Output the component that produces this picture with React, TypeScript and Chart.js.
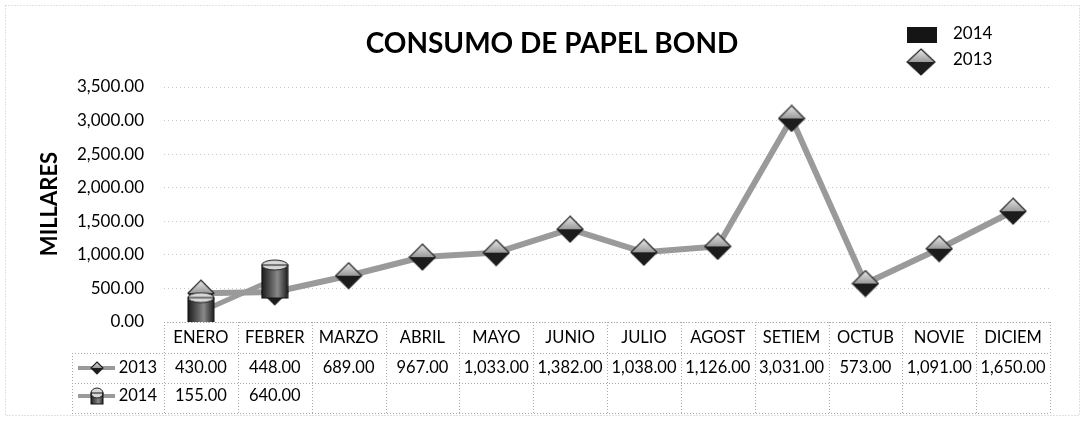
import React, { useEffect, useRef } from "react";
import { Chart, registerables } from "chart.js";

Chart.register(...registerables);

const categories = ["ENERO", "FEBRER", "MARZO", "ABRIL", "MAYO", "JUNIO", "JULIO", "AGOST", "SETIEM", "OCTUB", "NOVIE", "DICIEM"];
const values2013 = [430, 448, 689, 967, 1033, 1382, 1038, 1126, 3031, 573, 1091, 1650];
const values2014: (number | null)[] = [155, 640, null, null, null, null, null, null, null, null, null, null];
const seriesLabels = ["2013", "2014"];
const chartTitle = "CONSUMO DE PAPEL BOND";
const yTitle = "MILLARES";
const yMin = 0;
const yMax = 3500;
const yStep = 500;

const FONT = "Lato, 'Open Sans', sans-serif";

const fmt = (v: number) =>
  v.toLocaleString("en-US", { minimumFractionDigits: 2, maximumFractionDigits: 2 });

function makeDiamond(size: number): HTMLCanvasElement {
  const c = document.createElement("canvas");
  c.width = size;
  c.height = size;
  const g = c.getContext("2d")!;
  const h = size / 2;
  const grad = g.createLinearGradient(0, 0, 0, h);
  grad.addColorStop(0, "#f0f0f0");
  grad.addColorStop(1, "#9a9a9a");
  g.beginPath();
  g.moveTo(h, 1);
  g.lineTo(size - 1, h);
  g.lineTo(1, h);
  g.closePath();
  g.fillStyle = grad;
  g.fill();
  g.beginPath();
  g.moveTo(1, h);
  g.lineTo(size - 1, h);
  g.lineTo(h, size - 1);
  g.closePath();
  g.fillStyle = "#1c1c1c";
  g.fill();
  g.beginPath();
  g.moveTo(h, 1);
  g.lineTo(size - 1, h);
  g.lineTo(h, size - 1);
  g.lineTo(1, h);
  g.closePath();
  g.strokeStyle = "#222";
  g.lineWidth = 1.2;
  g.stroke();
  return c;
}

function makeBox(w: number, hgt: number): HTMLCanvasElement {
  const c = document.createElement("canvas");
  c.width = w;
  c.height = hgt;
  const g = c.getContext("2d")!;
  const grad = g.createLinearGradient(0, 0, w, 0);
  grad.addColorStop(0, "#151515");
  grad.addColorStop(0.45, "#6a6a6a");
  grad.addColorStop(0.6, "#8a8a8a");
  grad.addColorStop(1, "#151515");
  g.fillStyle = grad;
  g.fillRect(1, 5, w - 2, hgt - 6);
  g.beginPath();
  g.ellipse(w / 2, 6, w / 2 - 1, 5, 0, 0, Math.PI * 2);
  g.fillStyle = "#d8d8d8";
  g.fill();
  g.strokeStyle = "#222";
  g.lineWidth = 1;
  g.stroke();
  g.strokeStyle = "#111";
  g.strokeRect(1, 6, w - 2, hgt - 7);
  return c;
}

export default function App() {
  const ref = useRef<HTMLCanvasElement | null>(null);

  useEffect(() => {
    document.body.style.margin = "0";
    const canvas = ref.current!;
    const diamond = makeDiamond(28);
    const box = makeBox(28, 40);
    const smallDiamond = makeDiamond(14);
    const smallBox = makeBox(14, 18);

    const custom = {
      id: "customDraw",
      beforeDraw(chart: any) {
        const ctx = chart.ctx;
        ctx.save();
        ctx.fillStyle = "#ffffff";
        ctx.fillRect(0, 0, chart.width, chart.height);
        ctx.setLineDash([1, 2]);
        ctx.strokeStyle = "#c4c4c4";
        ctx.lineWidth = 1;
        ctx.strokeRect(5.5, 5.5, chart.width - 11, chart.height - 11);
        ctx.restore();
      },
      afterDraw(chart: any) {
        const ctx = chart.ctx;
        const ca = chart.chartArea;
        const xs = chart.scales.x;
        ctx.save();
        ctx.fillStyle = "#000";
        ctx.font = `bold 28px ${FONT}`;
        ctx.textAlign = "center";
        ctx.textBaseline = "middle";
        ctx.fillText(chartTitle, 552, 44);
        ctx.save();
        ctx.translate(50, 204);
        ctx.rotate(-Math.PI / 2);
        ctx.font = `bold 22px ${FONT}`;
        ctx.fillText(yTitle, 0, 0);
        ctx.restore();
        // Legend
        ctx.fillStyle = "#151515";
        ctx.fillRect(907, 27, 30, 16);
        ctx.drawImage(diamond, 906, 48, 30, 28);
        ctx.fillStyle = "#000";
        ctx.font = `17px ${FONT}`;
        ctx.textAlign = "left";
        ctx.fillText(seriesLabels[1], 953, 34);
        ctx.fillText(seriesLabels[0], 953, 60);

        // Data table
        const colW = (ca.right - ca.left) / categories.length;
        const headerLeft = 72;
        const lines = [ca.bottom, 353, 383, 413];
        ctx.setLineDash([1, 2]);
        ctx.strokeStyle = "#a8a8a8";
        ctx.lineWidth = 1;
        lines.forEach((y, i) => {
          ctx.beginPath();
          ctx.moveTo(i === 0 ? ca.left : headerLeft, Math.round(y) + 0.5);
          ctx.lineTo(ca.right, Math.round(y) + 0.5);
          ctx.stroke();
        });
        for (let i = 0; i <= categories.length; i++) {
          const x = Math.round(ca.left + i * colW) + 0.5;
          ctx.beginPath();
          ctx.moveTo(x, ca.bottom);
          ctx.lineTo(x, 413);
          ctx.stroke();
        }
        ctx.beginPath();
        ctx.moveTo(headerLeft + 0.5, 353);
        ctx.lineTo(headerLeft + 0.5, 413);
        ctx.stroke();
        ctx.setLineDash([]);

        ctx.fillStyle = "#000";
        ctx.font = `16.5px ${FONT}`;
        ctx.textAlign = "center";
        ctx.textBaseline = "middle";
        const rowY = [338, 368, 396];
        categories.forEach((c, i) => {
          const x = xs.getPixelForValue(i);
          ctx.fillText(c, x, rowY[0]);
          const v1 = values2013[i];
          if (v1 != null) ctx.fillText(fmt(v1), x, rowY[1]);
          const v2 = values2014[i];
          if (v2 != null) ctx.fillText(fmt(v2), x, rowY[2]);
        });
        ctx.textAlign = "right";
        ctx.fillText(seriesLabels[0], 157, rowY[1]);
        ctx.fillText(seriesLabels[1], 157, rowY[2]);
        ctx.strokeStyle = "#9a9a9a";
        ctx.lineWidth = 4;
        [rowY[1], rowY[2]].forEach((y) => {
          ctx.beginPath();
          ctx.moveTo(78, y);
          ctx.lineTo(115, y);
          ctx.stroke();
        });
        ctx.drawImage(smallDiamond, 90, rowY[1] - 7, 14, 14);
        ctx.drawImage(smallBox, 90, rowY[2] - 9, 14, 18);
        ctx.restore();
      },
    };

    const chart = new Chart(canvas, {
      type: "line",
      data: {
        labels: categories,
        datasets: [
          {
            label: seriesLabels[1],
            data: values2014,
            borderColor: "#9a9a9a",
            borderWidth: 5,
            pointStyle: box as any,
            pointRadius: 14,
            spanGaps: false,
          },
          {
            label: seriesLabels[0],
            data: values2013,
            borderColor: "#9a9a9a",
            borderWidth: 6,
            pointStyle: diamond as any,
            pointRadius: 14,
          },
        ],
      },
      options: {
        responsive: false,
        animation: false,
        layout: { padding: { top: 87, bottom: 99, left: 0, right: 35 } },
        plugins: {
          legend: { display: false },
          title: { display: false },
          tooltip: { enabled: false },
        },
        scales: {
          x: {
            type: "category",
            display: false,
            offset: true,
          },
          y: {
            min: yMin,
            max: yMax,
            afterFit: (s: any) => {
              s.width = 164;
            },
            ticks: {
              stepSize: yStep,
              padding: 20,
              color: "#000",
              font: { family: FONT, size: 17 },
              callback: (v: any) => fmt(Number(v)),
            },
            grid: { color: "#c8c8c8", drawTicks: false },
            border: { display: false, dash: [1, 3] },
          },
        },
      },
      plugins: [custom],
    });
    return () => chart.destroy();
  }, []);

  return <canvas ref={ref} width={1085} height={421} style={{ display: "block" }} />;
}
